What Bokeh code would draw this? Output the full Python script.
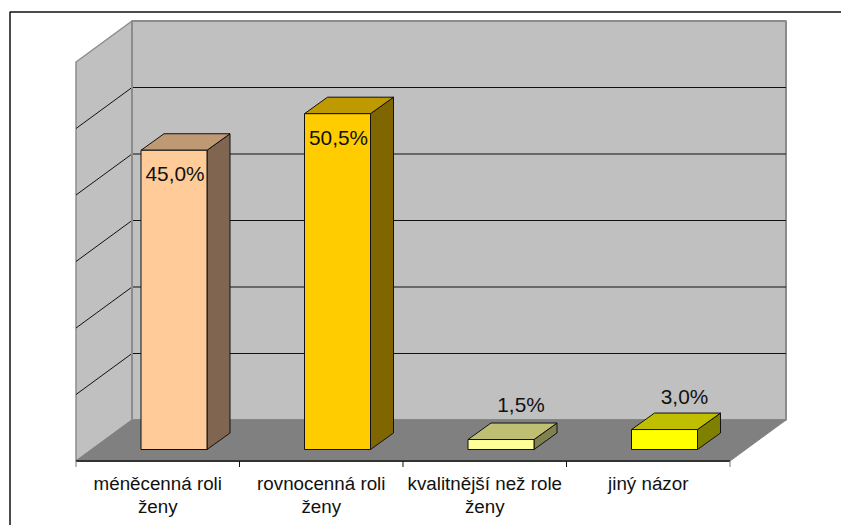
from bokeh.plotting import figure
from bokeh.models import Range1d
from bokeh.core.properties import value
from bokeh.embed import file_html
from bokeh.resources import INLINE

categories = ["méněcenná roli\nženy", "rovnocenná roli\nženy", "kvalitnější než role\nženy", "jiný názor"]
values = [45.0, 50.5, 1.5, 3.0]
value_labels = ["45,0%", "50,5%", "1,5%", "3,0%"]
grid_values = [10, 20, 30, 40, 50, 60]
front_colors = ["#FFCC99", "#FFCC00", "#FFFF99", "#FFFF00"]
top_colors = ["#BF9973", "#BF9900", "#BFBF73", "#BFBF00"]
side_colors = ["#806650", "#806600", "#808050", "#808000"]

# page-pixel calibration
PX = 163.5       # px per category
PY = 6.65        # px per percent
X0, Y0 = 75.5, 449.0   # page position of x=0, value 0 in the bars' front plane
W, H = 841, 525
ORIGIN = 0

def dx(px): return (px - X0) / PX
def dy(py): return (Y0 - py) / PY

p = figure(width=W, height=H, output_backend="svg", toolbar_location=None,
           x_range=Range1d(dx(ORIGIN), dx(ORIGIN + W)), y_range=Range1d(dy(ORIGIN + H), dy(ORIGIN)),
           min_border=0, min_border_left=0, min_border_right=0, min_border_top=0, min_border_bottom=0,
           outline_line_color=None, background_fill_color="white", border_fill_color="white")
p.axis.visible = False
p.grid.visible = False

FLOOR_FRONT = -11.5 / PY   # floor front edge relative to the bar plane
FLOOR_BACK = 29.5 / PY     # back wall base relative to the bar plane
SHIFT = 56 / PX            # depth of the walls, in category units
N = len(categories)
TOP = grid_values[-1]

# side wall
p.patch([0, SHIFT, SHIFT, 0],
        [FLOOR_FRONT, FLOOR_BACK, TOP + FLOOR_BACK, TOP + FLOOR_FRONT],
        fill_color="#C0C0C0", line_color="#8C8C8C", line_width=1.5)
# back wall
p.patch([SHIFT, N + SHIFT, N + SHIFT, SHIFT],
        [FLOOR_BACK, FLOOR_BACK, TOP + FLOOR_BACK, TOP + FLOOR_BACK],
        fill_color="#C0C0C0", line_color="#8C8C8C", line_width=2)
# floor
p.patch([0, N, N + SHIFT, SHIFT],
        [FLOOR_FRONT, FLOOR_FRONT, FLOOR_BACK, FLOOR_BACK],
        fill_color="#808080", line_color="#808080", line_width=1)
# gridlines
for g in grid_values[:-1]:
    p.line([0, SHIFT, N + SHIFT], [g + FLOOR_FRONT, g + FLOOR_BACK, g + FLOOR_BACK],
           line_color="#111111", line_width=1)
p.line([SHIFT, SHIFT], [FLOOR_BACK, TOP + FLOOR_BACK], line_color="#8C8C8C", line_width=2)

# bars
HALF = 33 / PX
OFFS = 98 / PX
BX = 23 / PX
BY = 16.5 / PY
for i, v in enumerate(values):
    l, r = i + OFFS - HALF, i + OFFS + HALF
    p.patch([r, r + BX, r + BX, r], [0, BY, v + BY, v],
            fill_color=side_colors[i], line_color="#111111", line_width=1)
    p.patch([l, r, r + BX, l + BX], [v, v, v + BY, v + BY],
            fill_color=top_colors[i], line_color="#111111", line_width=1)
    p.patch([l, r, r, l], [0, 0, v, v],
            fill_color=front_colors[i], line_color="#111111", line_width=1)
    inside = v > 10
    outside_dy = -35.5 if v < 2 else -33.5
    p.text([i + OFFS], [v], text=[value_labels[i]],
           x_offset=1 if inside else 20, y_offset=23.5 if inside else outside_dy,
           text_align="center", text_baseline="middle",
           text_font=value("Liberation Sans"), text_font_size="20.8px", text_color="#111111")

# category axis
p.line([0, N], [FLOOR_FRONT, FLOOR_FRONT], line_color="#333333", line_width=2)
tick_len = 6 / PY
for t in range(N + 1):
    p.line([t, t], [FLOOR_FRONT, FLOOR_FRONT - tick_len],
           line_color="#111111" if 0 < t < N else "#777777", line_width=1)
for i, c in enumerate(categories):
    for j, part in enumerate(c.split("\n")):
        p.text([i + 0.5], [FLOOR_FRONT], text=[part], y_offset=22.5 + j * 23,
               text_align="center", text_baseline="middle",
               text_font=value("Liberation Sans"), text_font_size="18.8px", text_color="#111111")

# chart-area frame: only top and left edges fall inside the view
p.line([dx(9.5), dx(9.5), dx(ORIGIN + W)], [dy(ORIGIN + H), dy(11.5), dy(11.5)],
       line_color="#111111", line_width=1.5)

open("out.html", "w").write(file_html(p, INLINE))
